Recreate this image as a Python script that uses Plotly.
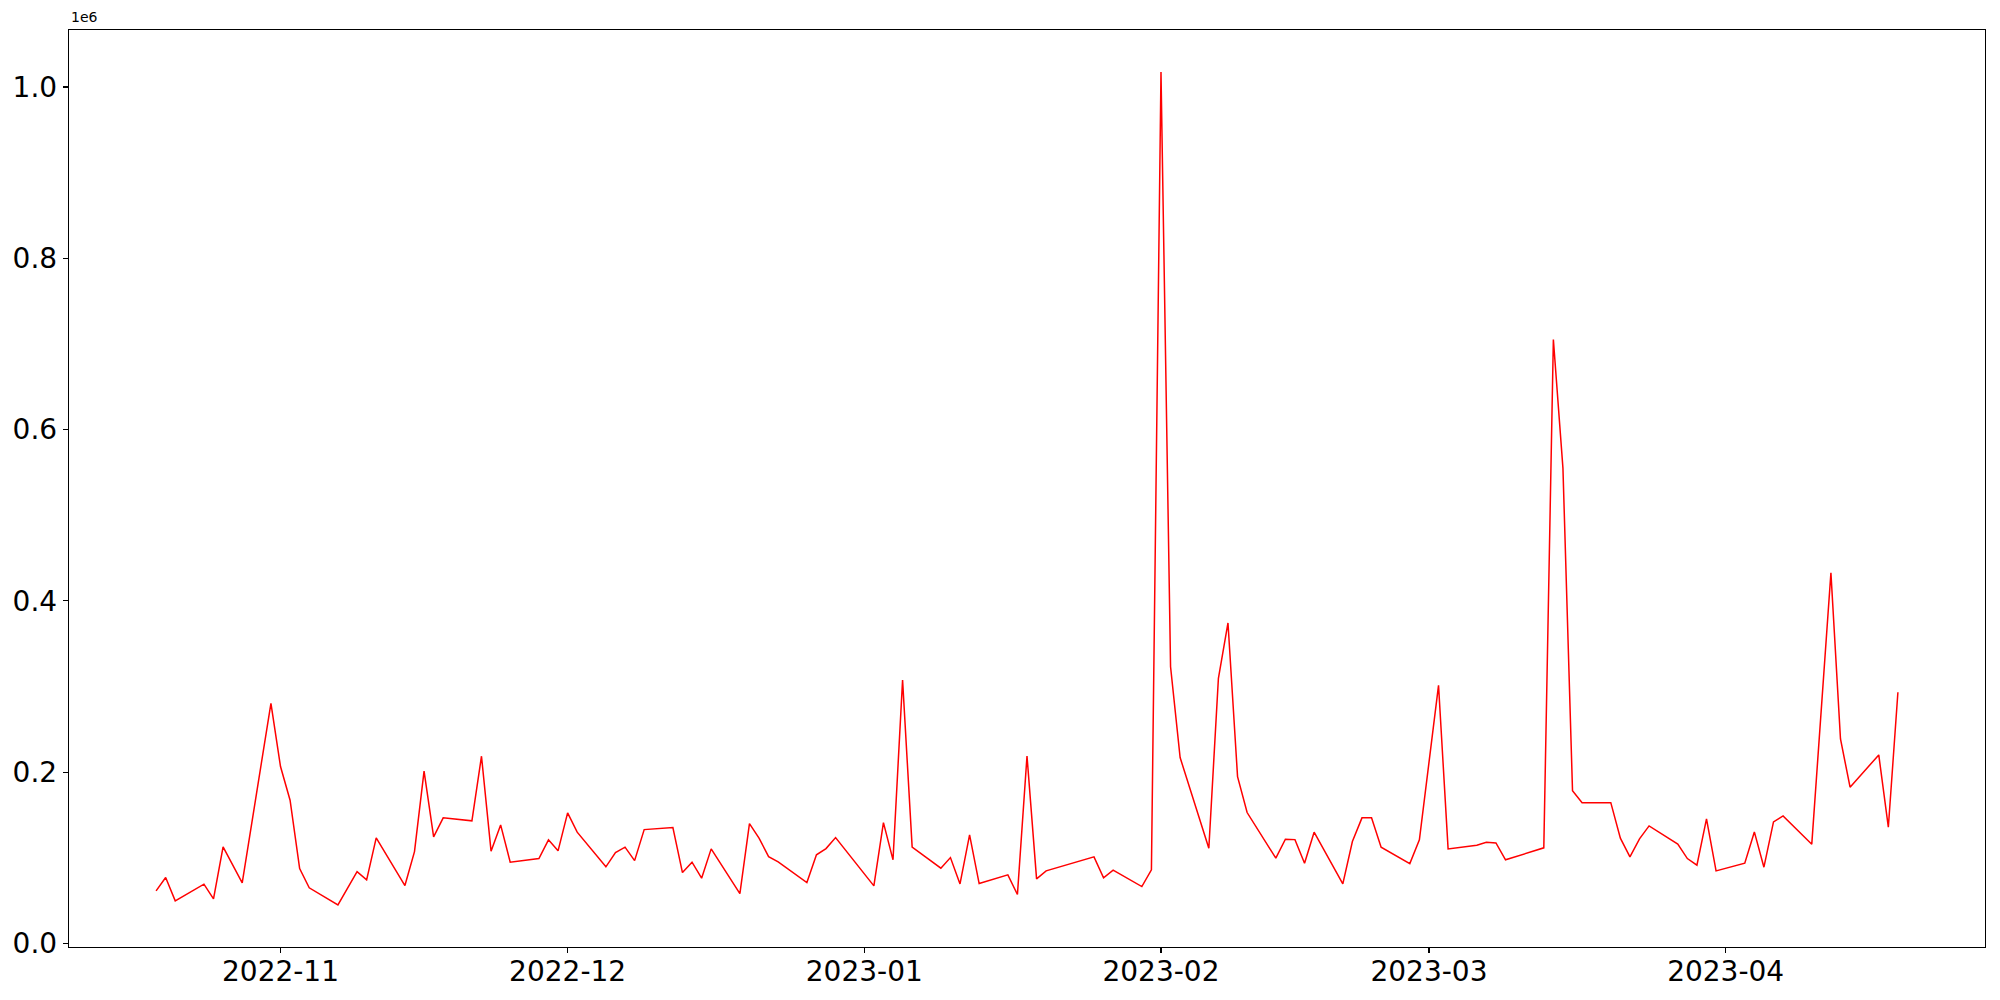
import plotly.graph_objects as go

dates = [
    "2022-10-19", "2022-10-20", "2022-10-21", "2022-10-24", "2022-10-25", "2022-10-26",
    "2022-10-28", "2022-10-31", "2022-11-01", "2022-11-02", "2022-11-03", "2022-11-04",
    "2022-11-07", "2022-11-09", "2022-11-10", "2022-11-11", "2022-11-14", "2022-11-15",
    "2022-11-16", "2022-11-17", "2022-11-18", "2022-11-21", "2022-11-22", "2022-11-23",
    "2022-11-24", "2022-11-25", "2022-11-28", "2022-11-29", "2022-11-30", "2022-12-01",
    "2022-12-02", "2022-12-05", "2022-12-06", "2022-12-07", "2022-12-08", "2022-12-09",
    "2022-12-12", "2022-12-13", "2022-12-14", "2022-12-15", "2022-12-16", "2022-12-19",
    "2022-12-20", "2022-12-21", "2022-12-22", "2022-12-23", "2022-12-26", "2022-12-27",
    "2022-12-28", "2022-12-29", "2023-01-02", "2023-01-03", "2023-01-04", "2023-01-05",
    "2023-01-06", "2023-01-09", "2023-01-10", "2023-01-11", "2023-01-12", "2023-01-13",
    "2023-01-16", "2023-01-17", "2023-01-18", "2023-01-19", "2023-01-20", "2023-01-25",
    "2023-01-26", "2023-01-27", "2023-01-30", "2023-01-31", "2023-02-01", "2023-02-02",
    "2023-02-03", "2023-02-06", "2023-02-07", "2023-02-08", "2023-02-09", "2023-02-10",
    "2023-02-13", "2023-02-14", "2023-02-15", "2023-02-16", "2023-02-17", "2023-02-20",
    "2023-02-21", "2023-02-22", "2023-02-23", "2023-02-24", "2023-02-27", "2023-02-28",
    "2023-03-02", "2023-03-03", "2023-03-06", "2023-03-07", "2023-03-08", "2023-03-09",
    "2023-03-13", "2023-03-14", "2023-03-15", "2023-03-16", "2023-03-17", "2023-03-20",
    "2023-03-21", "2023-03-22", "2023-03-23", "2023-03-24", "2023-03-27", "2023-03-28",
    "2023-03-29", "2023-03-30", "2023-03-31", "2023-04-03", "2023-04-04", "2023-04-05",
    "2023-04-06", "2023-04-07", "2023-04-10", "2023-04-12", "2023-04-13", "2023-04-14",
    "2023-04-17", "2023-04-18", "2023-04-19",
]

values = [
    61300, 76800, 49600, 69100, 51900, 112600,
    70600, 280300, 206400, 167100, 87300, 64800,
    44900, 83800, 74100, 123100, 67500, 107100,
    201000, 124300, 146500, 143000, 218500, 107600,
    138300, 94800, 99000, 120800, 108000, 152300,
    129800, 89300, 106000, 112300, 96600, 132800,
    135200, 82600, 94800, 76100, 110300, 58100,
    139800, 122800, 101300, 95100, 71000, 103300,
    110600, 123500, 67100, 141000, 97500, 307500,
    112300, 87800, 100100, 69400, 126600, 69800,
    80000, 57000, 218800, 75300, 84600, 101000,
    76400, 85400, 66300, 85800, 1017500, 323000,
    216900, 111100, 309500, 374100, 194700, 152700,
    99400, 121600, 121100, 93600, 129800, 69400,
    118800, 146500, 146500, 112300, 93100, 120800,
    301300, 110300, 114600, 118100, 117300, 97500,
    111500, 705200, 554900, 178300, 164300, 164300,
    122800, 101000, 122000, 137100, 115800, 99000,
    91300, 145300, 84600, 93600, 130100, 88900,
    141800, 148800, 115800, 432800, 238700, 182300,
    220000, 135600, 293200,
]

x_tick_vals = ["2022-11-01", "2022-12-01", "2023-01-01", "2023-02-01", "2023-03-01", "2023-04-01"]
x_tick_text = ["2022-11", "2022-12", "2023-01", "2023-02", "2023-03", "2023-04"]
y_tick_vals = [0, 200000, 400000, 600000, 800000, 1000000]
y_tick_text = ["0.0", "0.2", "0.4", "0.6", "0.8", "1.0"]

fig = go.Figure()
fig.add_trace(go.Scatter(
    x=dates, y=values, mode="lines",
    line=dict(color="red", width=1.5),
    showlegend=False, hoverinfo="skip",
))

font_family = "DejaVu Sans"
fig.update_layout(
    width=2000, height=1000,
    margin=dict(l=69, r=15, t=30, b=53, autoexpand=False),
    paper_bgcolor="white", plot_bgcolor="white",
    font=dict(family=font_family, color="black"),
    xaxis=dict(
        type="date", automargin=False,
        range=["2022-10-09 21:36", "2023-04-28 02:24"],
        tickvals=x_tick_vals, ticktext=x_tick_text,
        tickfont=dict(size=28, family=font_family, color="black"),
        showgrid=False, zeroline=False,
        showline=True, linecolor="black", linewidth=1.3, mirror=True,
        ticks="outside", ticklen=5, tickwidth=1.1, tickcolor="black",
        ticklabelstandoff=-6,
    ),
    yaxis=dict(
        automargin=False,
        range=[-4300, 1066600],
        tickvals=y_tick_vals, ticktext=y_tick_text,
        tickfont=dict(size=28, family=font_family, color="black"),
        showgrid=False, zeroline=False,
        showline=True, linecolor="black", linewidth=1.3, mirror=True,
        ticks="outside", ticklen=5, tickwidth=1.1, tickcolor="black",
        ticklabelstandoff=0,
    ),
    annotations=[dict(
        text="1e6", xref="paper", yref="paper", x=0, y=1.003,
        xanchor="left", yanchor="bottom", showarrow=False,
        font=dict(size=14, family=font_family, color="black"),
    )],
)

fig.write_html(
    "out.html",
    config={"displayModeBar": False, "staticPlot": True},
    post_script="document.body.style.margin='0';document.body.style.padding='0';",
)
